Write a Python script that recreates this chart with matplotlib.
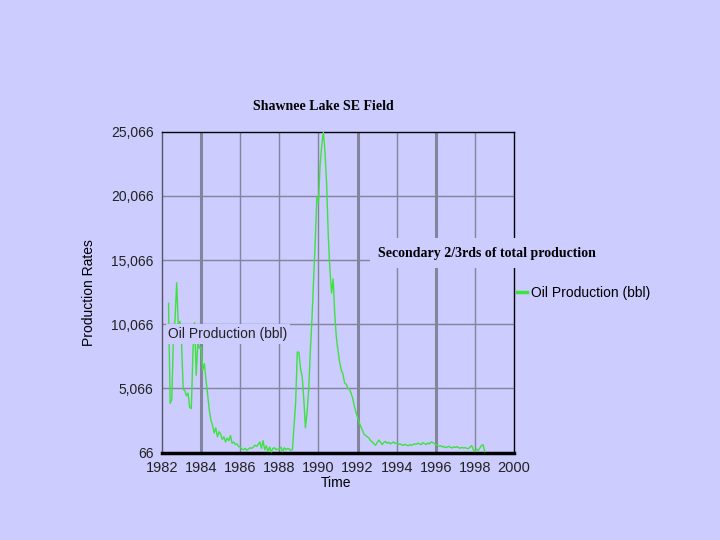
import matplotlib
matplotlib.use("Agg")
import matplotlib.pyplot as plt
from matplotlib.ticker import FuncFormatter

# monthly oil production (bbl), starting May 1982
start_year = 1982
start_month = 5
oil_bbl = [
    11700, 3900, 4200, 9000, 10500, 13300, 10000, 10300,                  # 1982
    8600, 5000, 4900, 4500, 4700, 3600, 3500, 8000, 10200, 6100, 8700, 8200,  # 1983
    8300, 6500, 7000, 5700, 4600, 3400, 2600, 2200, 1600, 2000, 1300, 1700,   # 1984
    1500, 1100, 1300, 900, 1200, 1000, 1400, 800, 900, 700, 750, 550,         # 1985
    500, 350, 300, 400, 250, 350, 450, 400, 500, 650, 550, 700,               # 1986
    900, 400, 1000, 300, 600, 150, 500, 120, 400, 450, 300, 350,              # 1987
    350, 500, 150, 450, 300, 400, 350, 250, 300, 2100, 4000, 7900,            # 1988
    7900, 6600, 6000, 4200, 2000, 3200, 5000, 8000, 10500, 13500, 16500, 20000,  # 1989
    19600, 22500, 24000, 25066, 23500, 21000, 17000, 14400, 12500, 13600, 10800, 9000,  # 1990
    8000, 7100, 6500, 6200, 5500, 5400, 5100, 5000, 4700, 4300, 3700, 3200,   # 1991
    2800, 2400, 2100, 1800, 1500, 1400, 1300, 1200, 1000, 900, 750, 650,     # 1992
    850, 1050, 900, 700, 850, 950, 800, 880, 760, 820, 900, 780,             # 1993
    820, 700, 760, 680, 640, 720, 660, 600, 690, 640, 700, 750,              # 1994
    720, 800, 760, 690, 840, 780, 700, 820, 740, 900, 860, 780,              # 1995
    700, 620, 560, 600, 520, 540, 460, 500, 560, 480, 430, 520,              # 1996
    470, 540, 450, 420, 480, 430, 460, 400, 380, 500, 620, 280,              # 1997
    150, 330, 250, 430, 620, 680, 150,                                        # 1998
]
years = [start_year + (start_month - 1 + i) / 12 for i in range(len(oil_bbl))]

x_ticks = list(range(1982, 2001, 2))
y_ticks = [66, 5066, 10066, 15066, 20066, 25066]
thick_years = [1984, 1992, 1996]

bg = "#ccccff"
grid_col = "#84849a"
green = "#3ee23e"

fig = plt.figure(figsize=(7.2, 5.4), dpi=100, facecolor=bg)
ax = fig.add_axes([0.225, 0.1617, 0.489, 0.5944])
ax.set_facecolor(bg)

ax.plot(years, oil_bbl, color=green, lw=1.0, label="Oil Production (bbl)", zorder=3)

ax.set_xlim(1982, 2000)
ax.set_ylim(66, 25066)
ax.set_xticks(x_ticks)
ax.set_yticks(y_ticks)
ax.yaxis.set_major_formatter(FuncFormatter(lambda v, p: f"{int(v):,}"))

for yv in y_ticks[1:-1]:
    ax.axhline(yv, color=grid_col, lw=1.0, zorder=1)
for xv in x_ticks[1:-1]:
    ax.axvline(xv, color=grid_col, lw=2.2 if xv in thick_years else 1.0, zorder=1)

ax.tick_params(length=0, pad=6, labelcolor="#222222")
for lab in ax.get_xticklabels():
    lab.set_fontfamily("Liberation Sans")
    lab.set_fontsize(10.5)
for lab in ax.get_yticklabels():
    lab.set_fontfamily("Liberation Sans")
    lab.set_fontsize(10)

ax.spines["top"].set_linewidth(1.0)
ax.spines["right"].set_linewidth(1.0)
ax.spines["left"].set_color("#555566")
ax.spines["left"].set_linewidth(1.0)
ax.spines["bottom"].set_linewidth(2.5)

ax.text(0.018, 0.37, "Oil Production (bbl)", transform=ax.transAxes,
        fontfamily="Liberation Sans", fontsize=10, color="#222222", va="center",
        zorder=5, bbox=dict(boxstyle="square,pad=0.2", fc=bg, ec="none"))

fig.text(378 / 720, 1 - 253 / 540, "Secondary 2/3rds of total production",
         fontfamily="Liberation Serif", fontweight="bold", fontsize=10,
         va="center", ha="left", zorder=10,
         bbox=dict(boxstyle="square,pad=0.6", fc=bg, ec="none"))

fig.text(323 / 720, 1 - 107 / 540, "Shawnee Lake SE Field",
         fontfamily="Liberation Serif", fontweight="bold", fontsize=10,
         ha="center", va="center")
fig.text(89 / 720, 1 - 293 / 540, "Production Rates", rotation=90,
         fontfamily="Liberation Sans", fontsize=10, ha="center", va="center")
fig.text(336 / 720, 1 - 483 / 540, "Time",
         fontfamily="Liberation Sans", fontsize=10, ha="center", va="center")

leg = ax.legend(loc="center left", bbox_to_anchor=(517 / 720, 1 - 293 / 540),
                bbox_transform=fig.transFigure, frameon=False, borderpad=0,
                borderaxespad=0, handlelength=0.7, handletextpad=0.3,
                prop={"family": "Liberation Sans", "size": 10})
for line in leg.get_lines():
    line.set_linewidth(2.5)

fig.savefig("out.png", dpi=100, facecolor=bg)
